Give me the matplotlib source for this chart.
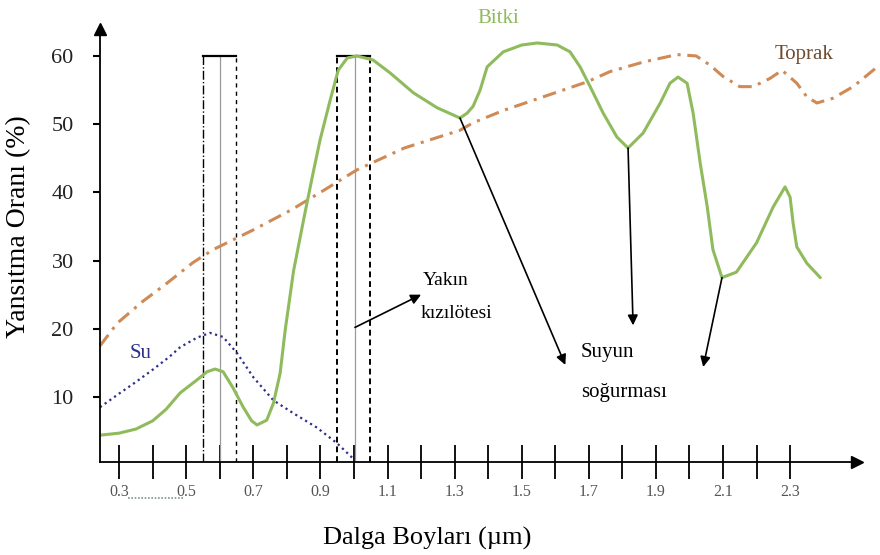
import numpy as np
import matplotlib
matplotlib.use('Agg')
import matplotlib.pyplot as plt

plt.rcParams['font.family'] = ['Liberation Serif', 'DejaVu Serif']

# Yansıtma eğrileri (dalga boyu µm, yansıtma %)
bitki_x = [0.243, 0.30, 0.35, 0.40, 0.44, 0.482, 0.532, 0.562, 0.586, 0.61,
           0.64, 0.67, 0.695, 0.711, 0.74, 0.76, 0.78, 0.795, 0.82, 0.854,
           0.878, 0.899, 0.929, 0.953, 0.98, 1.009, 1.057, 1.108, 1.177, 1.248,
           1.316, 1.337, 1.355, 1.376, 1.397, 1.445, 1.50, 1.546, 1.606, 1.644,
           1.674, 1.704, 1.743, 1.784, 1.817, 1.862, 1.913, 1.942, 1.966, 1.993,
           2.011, 2.032, 2.053, 2.07, 2.097, 2.14, 2.20, 2.25, 2.285, 2.30,
           2.309, 2.32, 2.35, 2.39]
bitki_y = [4.4, 4.7, 5.3, 6.5, 8.2, 10.6, 12.5, 13.7, 14.1, 13.7,
           11.3, 8.5, 6.5, 5.9, 6.6, 9.1, 13.5, 19.8, 28.5, 37.0,
           42.8, 47.7, 53.5, 57.9, 59.7, 60.0, 59.4, 57.5, 54.6, 52.4,
           50.9, 51.6, 52.6, 55.0, 58.4, 60.6, 61.6, 61.9, 61.6, 60.6,
           58.4, 55.5, 51.6, 48.1, 46.5, 48.7, 53.1, 56.0, 56.9, 56.0,
           51.6, 44.3, 37.9, 31.6, 27.5, 28.3, 32.6, 37.9, 40.8, 39.3,
           35.5, 32.0, 29.6, 27.5]

toprak_x = [0.243, 0.294, 0.37, 0.443, 0.52, 0.58, 0.70, 0.812, 0.91, 1.009,
            1.15, 1.316, 1.355, 1.445, 1.564, 1.695, 1.763, 1.862, 1.963, 2.02,
            2.06, 2.10, 2.15, 2.19, 2.24, 2.276, 2.32, 2.35, 2.38, 2.428,
            2.488, 2.56]
toprak_y = [17.5, 20.8, 24.0, 26.7, 29.7, 31.6, 34.5, 37.4, 40.3, 43.3,
            46.5, 49.1, 50.2, 52.0, 54.0, 56.2, 57.7, 59.1, 60.2, 60.0,
            58.7, 57.0, 55.5, 55.5, 56.7, 57.9, 56.0, 54.0, 53.1, 53.8,
            55.5, 58.4]

su_x = [0.243, 0.30, 0.35, 0.40, 0.45, 0.482, 0.532, 0.571, 0.61, 0.652,
        0.70, 0.76, 0.82, 0.89, 0.95, 0.997]
su_y = [8.5, 10.5, 12.2, 14.0, 15.9, 17.3, 18.7, 19.4, 18.8, 16.4,
        12.9, 9.5, 7.6, 5.5, 3.2, 1.0]

x_ticks = [0.3, 0.4, 0.5, 0.6, 0.7, 0.8, 0.9, 1.0, 1.1, 1.2, 1.3,
           1.4, 1.5, 1.6, 1.7, 1.8, 1.9, 2.0, 2.1, 2.2, 2.3]
x_labeled = [0.3, 0.5, 0.7, 0.9, 1.1, 1.3, 1.5, 1.7, 1.9, 2.1, 2.3]
y_ticks = [10, 20, 30, 40, 50, 60]

# bant kutuları: sol kenar, orta çizgi, sağ kenar, üst
bands = [(0.55, 0.60, 0.649, 60.0), (0.95, 1.003, 1.047, 60.0)]

# ok başlangıç / bitiş noktaları
yakin_arrow = ((1.003, 20.2), (1.20, 25.0))
su_arrows = [((1.316, 50.9), (1.63, 14.7)),
             ((1.817, 46.5), (1.832, 20.5)),
             ((2.097, 27.5), (2.041, 14.4))]

GREEN = '#8fbb5c'
ORANGE = '#cf8a55'
NAVY = '#2d2f8c'

fig = plt.figure(figsize=(8.8, 5.55), dpi=100)
ax = fig.add_axes([100 / 880, 93 / 555, 780 / 880, 462 / 555])
xmin, xmax = 0.243, 2.568
ymin, ymax = 0.47, 68.2
ax.set_xlim(xmin, xmax)
ax.set_ylim(ymin, ymax)

# eksenler ve ok uçları
ax.spines['top'].set_visible(False)
ax.spines['right'].set_visible(False)
ax.spines['left'].set_bounds(ymin, 64.0)
ax.spines['bottom'].set_bounds(xmin, 2.49)
for s in ('left', 'bottom'):
    ax.spines[s].set_linewidth(1.3)
ax.plot([xmin], [64.0], marker='^', color='k', markersize=9, clip_on=False)
ax.plot([2.5], [ymin], marker='>', color='k', markersize=9, clip_on=False)

ax.set_xticks(x_ticks)
ax.set_xticklabels([f'{v:.1f}' if v in x_labeled else '' for v in x_ticks])
ax.tick_params(axis='x', direction='inout', length=24, width=1.3, pad=4,
               labelsize=11.5, labelcolor='#555555')
ax.set_yticks(y_ticks)
ax.tick_params(axis='y', direction='out', length=5, width=1.5, pad=14,
               labelsize=16, labelcolor='#222222')

# kırmızı ve yakın kızılötesi bantları
for left, mid, right, top in bands:
    ax.plot([mid, mid], [ymin, top], color='#9a9a9a', lw=0.9)
    ax.plot([left, right], [top, top], color='k', lw=1.6)
ax.plot([bands[0][0]] * 2, [ymin, 60], color='k', lw=1.0, linestyle='-.')
ax.plot([bands[0][2]] * 2, [ymin, 60], color='k', lw=1.0, dashes=(3, 3))
ax.plot([bands[1][0]] * 2, [ymin, 60], color='k', lw=1.4, dashes=(3, 2))
ax.plot([bands[1][2]] * 2, [ymin, 60], color='k', lw=1.4, dashes=(3, 2))

# eğriler
ax.plot(toprak_x, toprak_y, color=ORANGE, lw=2.2, dashes=(4.5, 2.2, 1, 2.2),
        clip_on=False)
ax.plot(su_x, su_y, color=NAVY, lw=1.6, linestyle=(0, (1, 1.6)))
ax.plot(bitki_x, bitki_y, color=GREEN, lw=2.2, solid_capstyle='round',
        solid_joinstyle='round')

# oklar
arrow_kw = dict(arrowstyle='-|>', color='k', lw=1.2, mutation_scale=15,
                shrinkA=0, shrinkB=0)
ax.annotate('', xy=yakin_arrow[1], xytext=yakin_arrow[0], arrowprops=arrow_kw)
for start, end in su_arrows:
    ax.annotate('', xy=end, xytext=start, arrowprops=arrow_kw)

# etiketler
ax.text(1.43, 64.8, 'Bitki', color=GREEN, fontsize=15, ha='center', va='baseline')
ax.text(2.255, 59.6, 'Toprak', color='#6e4c30', fontsize=15, ha='left', va='baseline')
ax.text(0.33, 15.7, 'Su', color=NAVY, fontsize=15, ha='left', va='baseline')
ax.text(1.206, 26.4, 'Yakın', fontsize=14, ha='left', va='baseline')
ax.text(1.20, 21.6, 'kızılötesi', fontsize=14, ha='left', va='baseline')
ax.text(1.677, 15.9, 'Suyun', fontsize=15, ha='left', va='baseline')
ax.text(1.677, 10.0, 'soğurması', fontsize=15, ha='left', va='baseline')

# 0.3 - 0.5 arası dalgalı alt çizgi
ax.plot([0.327, 0.49], [-4.8, -4.8], color='#7f9a8a', lw=1.2,
        linestyle=(0, (1, 1)), clip_on=False)

ax.set_xlabel('Dalga Boyları (µm)', fontsize=19)
ax.xaxis.set_label_coords(0.419, -0.14)
ax.set_ylabel('Yansıtma Oranı (%)', fontsize=20)
ax.yaxis.set_label_coords(-0.088, 0.51)

fig.savefig('out.png', dpi=100, facecolor='white')
